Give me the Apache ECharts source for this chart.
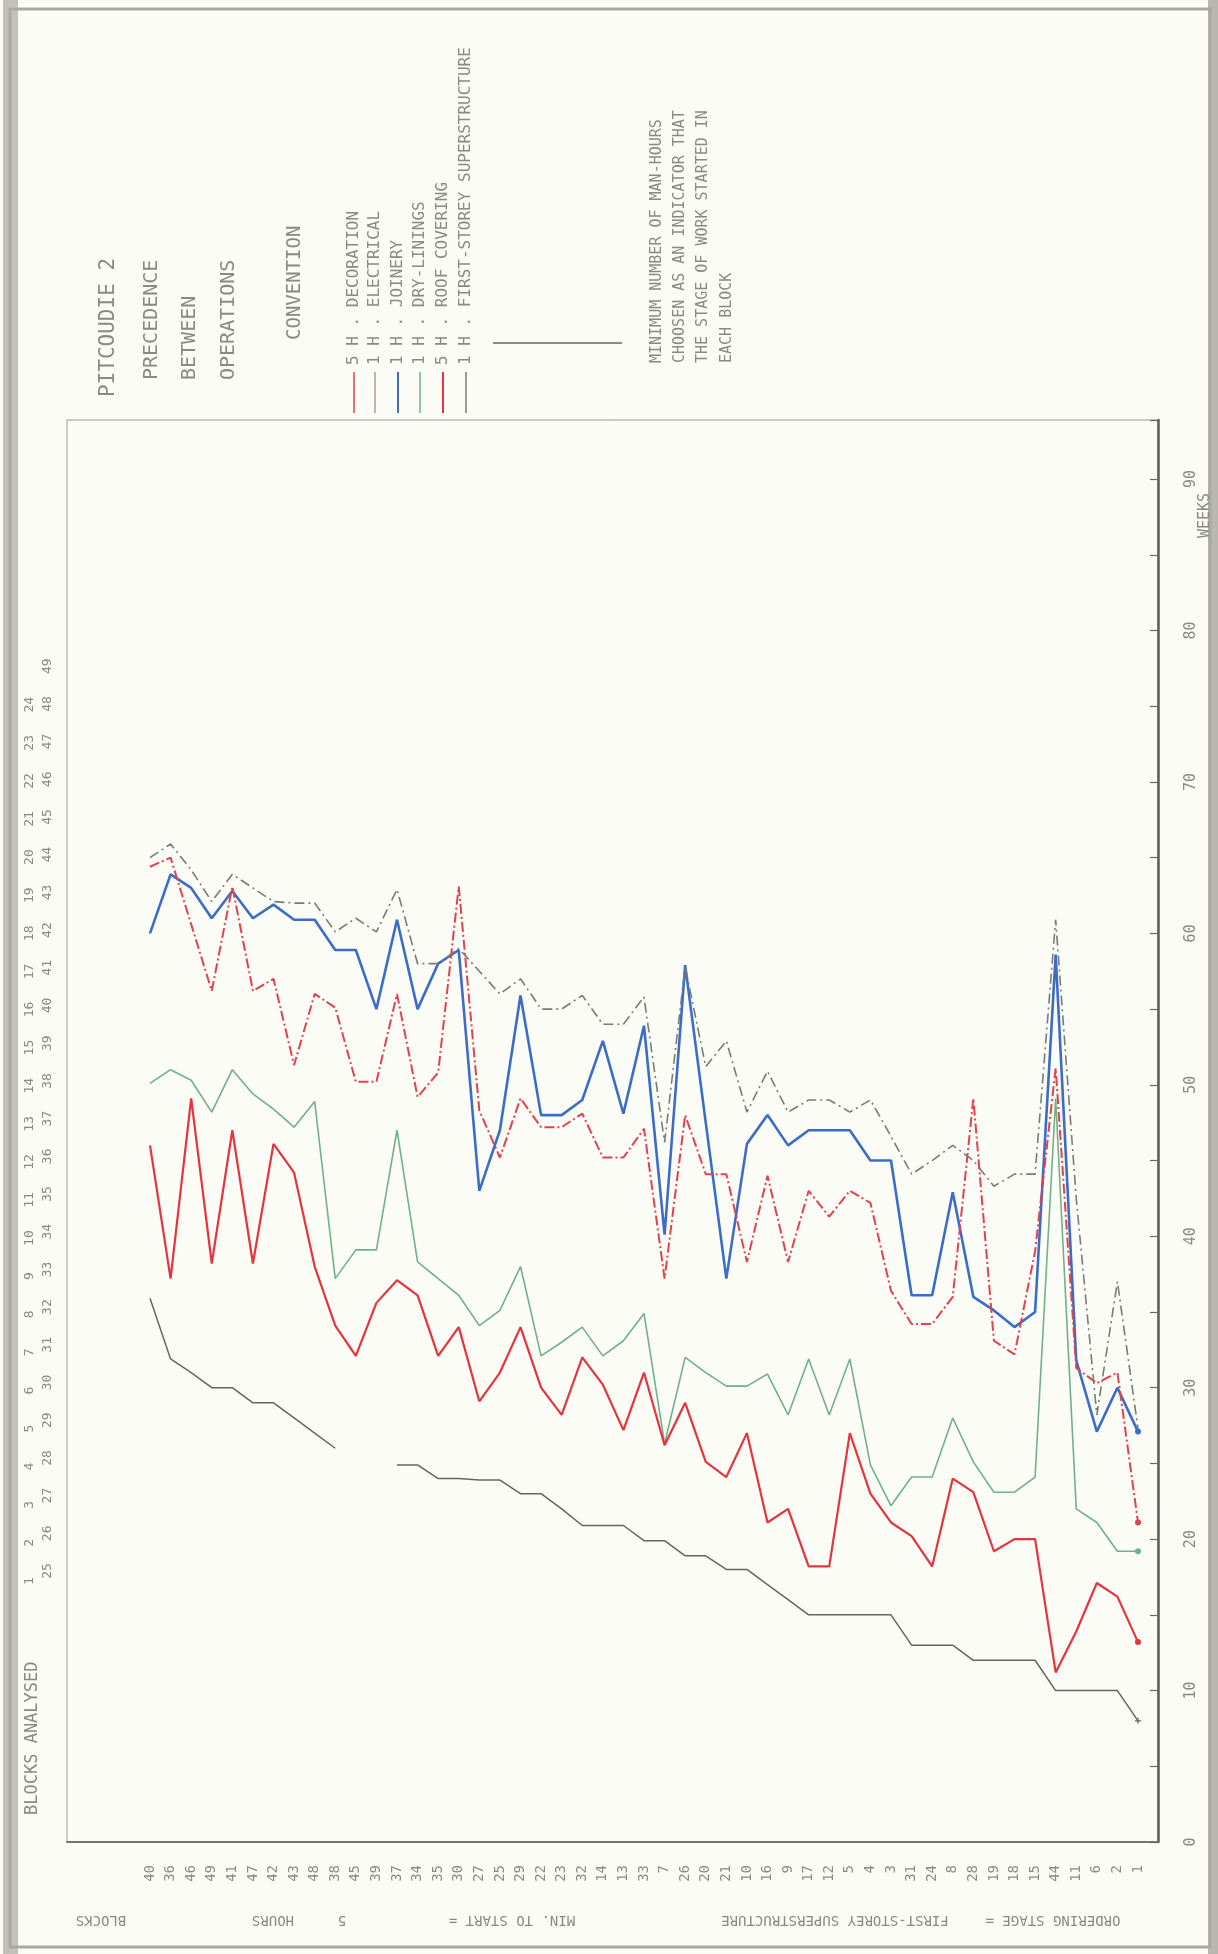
<!DOCTYPE html>
<html>
<head>
<meta charset="utf-8">
<script src="https://cdn.jsdelivr.net/npm/echarts@6/dist/echarts.min.js"></script>
<style>
html,body{margin:0;padding:0;background:#fcfcf6;}
#c{width:1218px;height:1954px;}
</style>
</head>
<body>
<div id="c"></div>
<script>
// ---- DATA ----
const blocks = ['40','36','46','49','41','47','42','43','48','38','45','39','37','34','35','30','27','25','29','22','23','32','14','13','33','7','26','20','21','10','16','9','17','12','5','4','3','31','24','8','28','19','18','15','44','11','6','2','1'];

const electrical = [65.0,65.9,64.2,62.1,63.9,63.0,62.1,62.0,62.0,60.1,61.0,60.1,62.9,58.0,58.0,59.0,57.5,56.0,57.0,55.0,55.0,55.9,54.0,54.0,55.8,46.2,57.8,51.2,52.9,48.2,50.9,48.2,49.0,49.0,48.2,49.0,46.6,44.1,45.0,46.0,45.0,43.3,44.1,44.1,60.9,42.5,28.2,37.0,27.3];

const decoration = [64.4,65.0,60.6,56.2,63.1,56.2,57.0,51.3,56.0,55.1,50.2,50.2,56.0,49.2,50.8,63.1,48.3,45.2,49.1,47.2,47.2,48.1,45.2,45.2,47.1,37.2,48.0,44.1,44.1,38.3,44.0,38.3,43.0,41.3,43.0,42.2,36.4,34.2,34.2,36.0,49.1,33.1,32.2,39.0,51.1,31.3,30.3,31.0,21.1];

const joinery = [60.0,63.9,63.0,61.0,62.8,61.0,61.9,60.9,60.9,58.9,58.9,55.0,60.9,55.0,58.0,58.9,43.0,47.0,55.9,48.0,48.0,49.0,52.9,48.1,53.9,40.1,57.9,47.5,37.2,46.1,48.0,46.0,47.0,47.0,47.0,45.0,45.0,36.1,36.1,42.9,36.0,35.1,34.0,35.0,58.6,31.8,27.1,30.0,27.1];

const dryLinings = [50.1,51.0,50.3,48.2,51.0,49.4,48.4,47.2,48.9,37.2,39.1,39.1,47.0,38.3,37.2,36.1,34.1,35.1,38.0,32.1,33.0,34.0,32.1,33.1,34.9,26.3,32.0,31.0,30.1,30.1,30.9,28.2,31.9,28.2,31.9,24.9,22.2,24.1,24.1,28.0,25.1,23.1,23.1,24.1,49.1,22.0,21.1,19.2,19.2];

const roofCovering = [46.0,37.2,49.1,38.2,47.0,38.2,46.1,44.2,38.0,34.1,32.1,35.6,37.1,36.1,32.1,34.0,29.1,31.0,34.0,30.0,28.2,32.0,30.2,27.2,31.0,26.2,29.0,25.1,24.1,27.0,21.1,22.0,18.2,18.2,27.0,23.0,21.1,20.2,18.2,24.0,23.1,19.2,20.0,20.0,11.2,13.9,17.1,16.2,13.2];

const superstructure = [35.9,31.9,31.0,30.0,30.0,29.0,29.0,28.0,27.0,26.0,null,null,24.9,24.9,24.0,24.0,23.9,23.9,23.0,23.0,22.0,20.9,20.9,20.9,19.9,19.9,18.9,18.9,18.0,18.0,17.0,16.0,15.0,15.0,15.0,15.0,15.0,13.0,13.0,13.0,12.0,12.0,12.0,12.0,10.0,10.0,10.0,10.0,8.0];

const weekTicks = [0,10,20,30,40,50,60,70,80,90];
const analysedRow1 = [1,2,3,4,5,6,7,8,9,10,11,12,13,14,15,16,17,18,19,20,21,22,23,24];
const analysedRow2 = [25,26,27,28,29,30,31,32,33,34,35,36,37,38,39,40,41,42,43,44,45,46,47,48,49];

const legendItems = [
  {num:'5', label:'DECORATION'},
  {num:'1', label:'ELECTRICAL'},
  {num:'1', label:'JOINERY'},
  {num:'1', label:'DRY-LININGS'},
  {num:'5', label:'ROOF COVERING'},
  {num:'1', label:'FIRST-STOREY SUPERSTRUCTURE'}
];

// ---- STYLE ----
const FONT = '"DejaVu Sans Mono","Liberation Mono",monospace';
const TXT = '#8a8a82';
const C_RED = '#e3343f', C_REDD = '#e0424e', C_BLUE = '#3b6cc6', C_GREEN = '#72b088', C_GREY = '#7b7b72', C_DARK = '#6a6559';
const legendColors = [C_REDD, '#a8a08a', C_BLUE, C_GREEN, C_RED, C_GREY];
const YMAX = 93.9;

function vtext(text, x, y, size, align, color) {
  return {type:'text', x:x, y:y, rotation:Math.PI/2, silent:true,
    style:{text:text, fill:color||TXT, fontSize:size, fontFamily:FONT,
      align:align||'left', verticalAlign:'middle', textAlign:align||'left', textVerticalAlign:'middle'}};
}
function utext(text, x, y, size) {
  return {type:'text', x:x, y:y, rotation:Math.PI, silent:true,
    style:{text:text, fill:TXT, fontSize:size, fontFamily:FONT,
      align:'center', verticalAlign:'middle', textAlign:'center', textVerticalAlign:'middle'}};
}

const graphics = [];
// page frame
graphics.push({type:'rect', shape:{x:3,y:0,width:15,height:1954}, style:{fill:'#c2c2ba'}, silent:true, z:-10});
graphics.push({type:'rect', shape:{x:1208,y:0,width:10,height:1954}, style:{fill:'#b8b8b0'}, silent:true, z:-10});
graphics.push({type:'rect', shape:{x:10,y:9,width:1200,height:1938}, style:{fill:'none', stroke:'#a9a9a2', lineWidth:3}, silent:true, z:-9});

// header titles
graphics.push(vtext('PITCOUDIE 2', 109, 397, 21));
graphics.push(vtext('PRECEDENCE', 152, 380, 20));
graphics.push(vtext('BETWEEN', 190, 380, 20));
graphics.push(vtext('OPERATIONS', 229, 380, 20));
graphics.push(vtext('CONVENTION', 295, 340, 19));

// legend
const legX = [354, 375, 398, 420, 443, 466];
legendItems.forEach(function(it, i){
  graphics.push({type:'line', shape:{x1:legX[i], y1:372, x2:legX[i], y2:413}, style:{stroke:legendColors[i], lineWidth:(i===2||i===4)?2:1.5}, silent:true});
  graphics.push(vtext(it.num + ' H . ' + it.label, legX[i], 365, 16));
});
graphics.push({type:'line', shape:{x1:493, y1:343, x2:622, y2:343}, style:{stroke:C_DARK, lineWidth:1.5}, silent:true});
graphics.push(vtext('MINIMUM NUMBER OF MAN-HOURS', 657, 363, 15));
graphics.push(vtext('CHOOSEN AS AN INDICATOR THAT', 680, 363, 15));
graphics.push(vtext('THE STAGE OF WORK STARTED IN', 703, 363, 15));
graphics.push(vtext('EACH BLOCK', 727, 363, 15));

// blocks analysed header
graphics.push(vtext('BLOCKS ANALYSED', 33, 1815, 17));
analysedRow1.forEach(function(n, i){ graphics.push(vtext(String(n), 30, 1581 - i*38.1, 13, 'center')); });
analysedRow2.forEach(function(n, i){ graphics.push(vtext(String(n), 48, 1571 - i*37.7, 13, 'center')); });

// weeks name
graphics.push(vtext('WEEKS', 1205, 538, 15));

// upside-down axis title
graphics.push(utext('BLOCKS', 101, 1920, 14));
graphics.push(utext('HOURS', 273, 1920, 14));
graphics.push(utext('5', 342, 1920, 14));
graphics.push(utext('MIN. TO START =', 512, 1920, 14));
graphics.push(utext('FIRST-STOREY SUPERSTRUCTURE', 835, 1920, 14));
graphics.push(utext('ORDERING STAGE =', 1053, 1920, 14));

function lineSeries(name, data, color, width, dash, symbol, z) {
  const last = data.length - 1;
  return {name:name, type:'line', xAxisIndex:0, yAxisIndex:0, data:data,
    showSymbol:true, showAllSymbol:true, symbol:symbol||'circle',
    symbolSize:function(v, p){ return p.dataIndex === last ? 6 : 0; },
    connectNulls:false, z:z||2, silent:true,
    lineStyle:{color:color, width:width, type:dash||'solid'},
    itemStyle:{color:color}};
}

const option = {
  backgroundColor:'#fcfcf6',
  animation:false,
  grid:[
    {left:150, right:80, top:420, bottom:112},
    {left:67, right:60, top:420, bottom:112, show:true, borderColor:'#9a9a92', borderWidth:1}
  ],
  xAxis:[
    {type:'category', gridIndex:0, data:blocks, boundaryGap:false,
      axisLine:{show:false}, axisTick:{show:false}, splitLine:{show:false},
      axisLabel:{rotate:90, margin:23, interval:0, fontSize:14, fontFamily:FONT, color:TXT}},
    {type:'value', gridIndex:1, min:0, max:1, axisLine:{show:true, onZero:false, lineStyle:{color:'#74746c', width:2}},
      axisTick:{show:false}, axisLabel:{show:false}, splitLine:{show:false}}
  ],
  yAxis:[
    {type:'value', gridIndex:0, min:0, max:YMAX, show:false, splitLine:{show:false}},
    {type:'value', gridIndex:1, min:0, max:YMAX, interval:5, position:'right',
      axisLine:{show:true, onZero:false, lineStyle:{color:'#5e5e58', width:2.5}},
      axisTick:{show:true, inside:true, length:8, lineStyle:{color:'#6a6a64', width:1.2}},
      splitLine:{show:false},
      axisLabel:{rotate:90, margin:26, fontSize:15, fontFamily:FONT, color:TXT,
        formatter:function(v){ return weekTicks.indexOf(Math.round(v*10)/10) >= 0 ? String(v) : ''; }}}
  ],
  graphic:graphics,
  series:[
    lineSeries('First-storey superstructure', superstructure, C_DARK, 1.5, 'solid', 'path://M4,0h2v4h4v2h-4v4h-2v-4h-4v-2h4z', 2),
    lineSeries('Dry-linings', dryLinings, C_GREEN, 1.6, 'solid', 'circle', 3),
    lineSeries('Roof covering', roofCovering, C_RED, 2.2, 'solid', 'circle', 4),
    lineSeries('Joinery', joinery, C_BLUE, 2.6, 'solid', 'circle', 5),
    lineSeries('Decoration', decoration, C_REDD, 2, [10,3,2,3], 'circle', 6),
    lineSeries('Electrical', electrical, C_GREY, 1.6, [10,4,2,4], 'none', 7)
  ]
};

echarts.init(document.getElementById('c')).setOption(option);
</script>
</body>
</html>
